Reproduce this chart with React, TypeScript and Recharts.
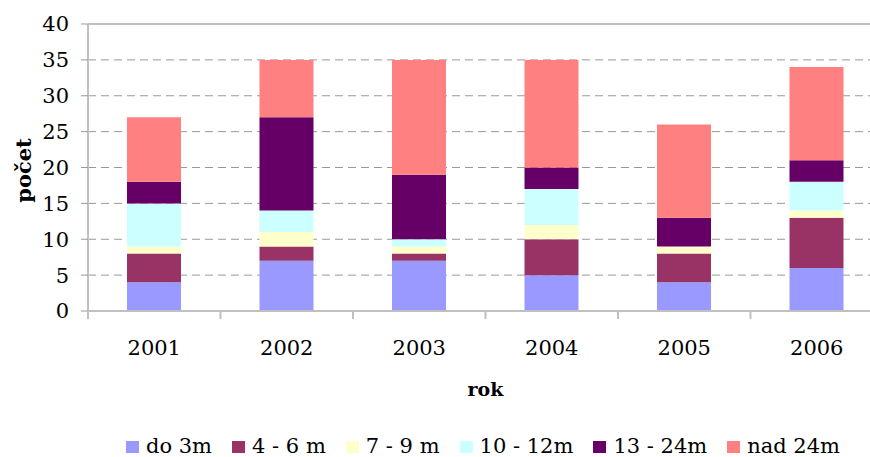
import { BarChart, Bar, XAxis, YAxis, CartesianGrid, Legend, ReferenceLine } from 'recharts';

const years = ['2001', '2002', '2003', '2004', '2005', '2006'];
const do3m = [4, 7, 7, 5, 4, 6];
const m4to6 = [4, 2, 1, 5, 4, 7];
const m7to9 = [1, 2, 1, 2, 1, 1];
const m10to12 = [6, 3, 1, 5, 0, 4];
const m13to24 = [3, 13, 9, 3, 4, 3];
const nad24 = [9, 8, 16, 15, 13, 13];
const yTicks = [0, 5, 10, 15, 20, 25, 30, 35, 40];

const SERIES = [
  { key: 'do3m', name: 'do 3m', values: do3m, color: '#9999FF' },
  { key: 'm4to6', name: '4 - 6 m', values: m4to6, color: '#993366' },
  { key: 'm7to9', name: '7 - 9 m', values: m7to9, color: '#FFFFCC' },
  { key: 'm10to12', name: '10 - 12m', values: m10to12, color: '#CCFFFF' },
  { key: 'm13to24', name: '13 - 24m', values: m13to24, color: '#660066' },
  { key: 'nad24', name: 'nad 24m', values: nad24, color: '#FF8080' },
];

const data = years.map((rok, i) => {
  const row: Record<string, any> = { rok };
  SERIES.forEach(s => { row[s.key] = s.values[i]; });
  return row;
});

const FONT = 'DejaVu Serif';
const AXIS = '#c0c0c0';

// year label + boundary tick at the left edge of each category
const YearTick = (props: any) => {
  const { x, y, payload } = props;
  const half = payload.offset ?? 0;
  return (
    <g>
      <line x1={x - half} x2={x - half} y1={y} y2={y + 8} stroke={AXIS} strokeWidth={2} />
      <text x={x} y={y + 44} textAnchor="middle" fill="#000" fontSize={21} fontFamily={FONT}>
        {payload.value}
      </text>
    </g>
  );
};

const YTitle = (props: any) => {
  const vb = props.viewBox;
  const cx = 31;
  const cy = vb.y + vb.height / 2 + 3;
  return (
    <text x={cx} y={cy} transform={`rotate(-90 ${cx} ${cy})`} textAnchor="middle" fontSize={21} fontWeight="bold" fontFamily={FONT} fill="#000">
      počet
    </text>
  );
};

const XTitle = (props: any) => {
  const vb = props.viewBox;
  return (
    <text x={vb.x + vb.width / 2} y={vb.y + 85} textAnchor="middle" fontSize={19} fontWeight="bold" fontFamily={FONT} fill="#000">
      rok
    </text>
  );
};

const LegendBox = () => (
  <div style={{ display: 'flex', alignItems: 'center', height: 22, paddingLeft: 126, fontFamily: FONT, fontSize: 21, lineHeight: '22px', color: '#000' }}>
    {SERIES.map(s => (
      <div key={s.key} style={{ display: 'flex', alignItems: 'center', marginRight: 20 }}>
        <span style={{ display: 'inline-block', width: 13, height: 12, background: s.color, marginRight: 7, marginTop: 2 }} />
        <span style={{ whiteSpace: 'nowrap' }}>{s.name}</span>
      </div>
    ))}
  </div>
);

export default function App() {
  return (
    <div style={{ position: 'absolute', left: 0, top: 0, width: 870, height: 457, overflow: 'hidden', background: '#fff' }}>
      <BarChart width={900} height={457} data={data} margin={{ top: 24, right: 17, left: 0, bottom: 0 }}>
        <CartesianGrid vertical={false} stroke="#999" strokeDasharray="8 5" />
        <XAxis
          dataKey="rok"
          height={124}
          tickLine={false}
          tickSize={0}
          tickMargin={0}
          axisLine={{ stroke: AXIS, strokeWidth: 2 }}
          tick={<YearTick />}
          interval={0}
          label={XTitle}
        />
        <YAxis
          width={88}
          domain={[0, 40]}
          ticks={yTicks}
          interval={0}
          tickSize={7}
          tickMargin={12}
          tickLine={{ stroke: '#999' }}
          axisLine={{ stroke: AXIS, strokeWidth: 2 }}
          tick={{ fill: '#000', fontSize: 21, fontFamily: FONT }}
          label={YTitle}
        />
        <ReferenceLine y={40} stroke={AXIS} strokeWidth={2} />
        {SERIES.map(s => (
          <Bar key={s.key} dataKey={s.key} name={s.name} stackId="a" fill={s.color} barSize={54} isAnimationActive={false} />
        ))}
        <Legend verticalAlign="bottom" content={<LegendBox />} wrapperStyle={{ left: 0, width: 900 }} />
      </BarChart>
    </div>
  );
}
